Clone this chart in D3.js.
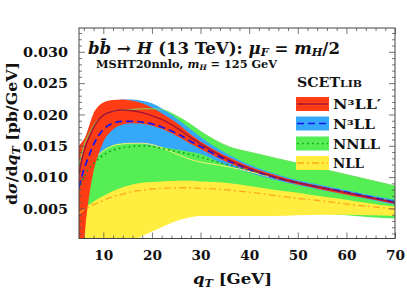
<!DOCTYPE html>
<html><head><meta charset="utf-8">
<script src="https://cdn.jsdelivr.net/npm/d3@7"></script>
<style>body{margin:0;background:#fff}svg{display:block}text{font-family:"DejaVu Serif",serif;font-weight:bold;fill:#111}</style>
</head><body><svg id="c" width="407" height="296"></svg>
<script>
// ---- data ----
const qT = [5,5.5,6,6.5,7,7.5,8,9,10,12,14,16,18,20,22,25,28,30,33,36,40,45,50,55,60,65,70];
const n3llpCentral = [0.0105,0.0124,0.0140,0.0152,0.0162,0.0171,0.0179,0.0191,0.0199,0.0205,0.0207,0.0206,0.0203,0.0198,0.0192,0.0179,0.0163,0.0153,0.0139,0.0127,0.0114,0.0101,0.0091,0.0083,0.0075,0.0067,0.0059];
const n3llpUpper   = [0.0150,0.0155,0.0160,0.0168,0.0180,0.0192,0.0202,0.0213,0.0219,0.0223,0.0224,0.0222,0.0218,0.0211,0.0202,0.0187,0.0168,0.0157,0.0143,0.0131,0.0117,0.0104,0.0093,0.0085,0.0077,0.0069,0.0061];
const n3llpLower   = [0.0,0.0,0.0,0.0035,0.0065,0.0090,0.0110,0.0136,0.0156,0.0176,0.0184,0.0186,0.0185,0.0182,0.0177,0.0166,0.0153,0.0145,0.0133,0.0122,0.0110,0.0098,0.0088,0.0080,0.0072,0.0065,0.0057];
const n3llCentral  = [0.0084,0.0099,0.0112,0.0123,0.0133,0.0143,0.0152,0.0166,0.0176,0.0186,0.0189,0.0189,0.0188,0.0185,0.0180,0.0170,0.0157,0.0149,0.0136,0.0125,0.0113,0.0100,0.0091,0.0083,0.0076,0.0068,0.0060];
const n3llUpper    = [0.0125,0.0140,0.0155,0.0168,0.0178,0.0187,0.0195,0.0207,0.0214,0.0221,0.0224,0.0224,0.0222,0.0218,0.0210,0.0194,0.0176,0.0164,0.0148,0.0135,0.0120,0.0106,0.0095,0.0087,0.0079,0.0071,0.0064];
const n3llLower    = [0.0030,0.0045,0.0060,0.0078,0.0095,0.0108,0.0120,0.0134,0.0143,0.0151,0.0154,0.0154,0.0153,0.0151,0.0148,0.0144,0.0140,0.0137,0.0127,0.0117,0.0107,0.0096,0.0087,0.0079,0.0072,0.0064,0.0056];
const nnllCentral  = [0.0080,0.0090,0.0100,0.0107,0.0113,0.0118,0.0122,0.0129,0.0135,0.0143,0.0147,0.0149,0.0150,0.0149,0.0146,0.0141,0.0136,0.0132,0.0125,0.0119,0.0111,0.0100,0.0091,0.0083,0.0075,0.0068,0.0061];
const nnllUpper    = [0.0120,0.0135,0.0150,0.0160,0.0168,0.0175,0.0182,0.0192,0.0199,0.0205,0.0207,0.0208,0.0209,0.0209,0.0208,0.0198,0.0184,0.0173,0.0159,0.0148,0.0140,0.0131,0.0122,0.0113,0.0104,0.0095,0.0086];
const nnllLower    = [0.0040,0.0041,0.0042,0.0043,0.0044,0.0045,0.0046,0.0048,0.0050,0.0052,0.0053,0.0054,0.0055,0.0055,0.0055,0.0054,0.0053,0.0053,0.0052,0.0051,0.0050,0.0048,0.0046,0.0042,0.0039,0.0036,0.0034];
const nllCentral   = [0.0042,0.0045,0.0048,0.0050,0.0052,0.0054,0.0056,0.0059,0.0063,0.0069,0.0073,0.0077,0.0079,0.0081,0.0082,0.0083,0.0083,0.0082,0.0081,0.0079,0.0076,0.0071,0.0066,0.0062,0.0057,0.0053,0.0049];
const nllUpper     = [0.0045,0.0048,0.0051,0.0054,0.0056,0.0058,0.0061,0.0066,0.0070,0.0078,0.0084,0.0088,0.0091,0.0092,0.0093,0.0094,0.0094,0.0093,0.0092,0.0090,0.0086,0.0080,0.0075,0.0069,0.0064,0.0058,0.0053];
const nllLower     = [-0.001,-0.001,-0.001,-0.001,-0.001,-0.001,-0.001,-0.001,-0.001,-0.001,-0.001,-0.0002,0.0006,0.0013,0.0020,0.0030,0.0036,0.0038,0.0038,0.0038,0.0038,0.0038,0.0039,0.0040,0.0040,0.0039,0.0038];
const nllEdge      = [null,null,null,null,null,null,null,0.0136,0.0142,0.0150,0.0153,0.0154,0.0154,0.0152,0.0147,0.0137,0.0128,0.0124,0.0120,0.0116,0.0109,0.0099,null,null,null,null,null];
const xTicks = [10,20,30,40,50,60,70];
const yTicks = [0.005,0.010,0.015,0.020,0.025,0.030];
const legendNames = ["N³LL′","N³LL","NNLL","NLL"];

// ---- layout ----
const svg = d3.select("#c");
const L=79, R=395, T=28, B=238.5;
const x = d3.scaleLinear().domain([5,70]).range([L,R]);
const y = d3.scaleLinear().domain([0.0002,0.0338]).range([B,T]);

const colors = {
  n3llp:{fill:"#ff3c14", line:"#a0123a"},
  n3ll:{fill:"#36a8fa", line:"#1414f0"},
  nnll:{fill:"#55ee55", line:"#1c9a1c"},
  nll:{fill:"#ffee40", line:"#ffa820"}
};
const dashes = {n3llp:null, n3ll:"7,4", nnll:"1.6,3.4", nll:"7,3,2,3"};

svg.append("clipPath").attr("id","clip").append("rect").attr("x",L).attr("y",T).attr("width",R-L).attr("height",B-T);
const g = svg.append("g").attr("clip-path","url(#clip)");

const area = (lo,hi)=>d3.area().x((d,i)=>x(qT[i])).y0((d,i)=>y(lo[i])).y1((d,i)=>y(hi[i])).curve(d3.curveMonotoneX);
const line = (arr)=>d3.line().defined(d=>d!=null).x((d,i)=>x(qT[i])).y(d=>y(d)).curve(d3.curveMonotoneX);

g.append("path").datum(qT).attr("d",area(nnllLower,nnllUpper)).attr("fill",colors.nnll.fill);
g.append("path").datum(qT).attr("d",area(nllLower,nllUpper)).attr("fill",colors.nll.fill);
g.append("path").datum(qT).attr("d",area(n3llLower,n3llUpper)).attr("fill",colors.n3ll.fill);
g.append("path").datum(qT).attr("d",area(n3llpLower,n3llpUpper)).attr("fill",colors.n3llp.fill);
// band edges drawn over fills
g.append("path").datum(nllEdge).attr("d",line(nllEdge)).attr("fill","none").attr("stroke","#f4f070").attr("stroke-width",1);
g.append("path").datum(nnllUpper).attr("d",line(nnllUpper)).attr("fill","none").attr("stroke","#6ee060").attr("stroke-width",1);

const centrals = [["nll",nllCentral],["nnll",nnllCentral],["n3ll",n3llCentral],["n3llp",n3llpCentral]];
centrals.forEach(([k,arr])=>{
  const p = g.append("path").datum(arr).attr("d",line(arr)).attr("fill","none")
    .attr("stroke",colors[k].line).attr("stroke-width",k==="n3llp"?1.4:(k==="nll"?1.3:1.7));
  if(dashes[k]) p.attr("stroke-dasharray",dashes[k]);
});

// ---- axes (ticks inward on all sides) ----
const minorX = d3.range(6,70.01,2).filter(v=>v%10!==0);
const minorY = d3.range(1,34).map(v=>v/1000).filter(v=>Math.round(v*1000)%5!==0);
function styleAxis(sel){ sel.select(".domain").remove(); sel.selectAll("line").attr("stroke","#555").attr("stroke-width",0.8); }
const ax = [];
ax.push(svg.append("g").attr("transform",`translate(0,${B})`).call(d3.axisBottom(x).tickValues(xTicks).tickSize(-6).tickPadding(12).tickFormat(d3.format("d"))));
ax.push(svg.append("g").attr("transform",`translate(0,${B})`).call(d3.axisBottom(x).tickValues(minorX).tickSize(-3).tickFormat("")));
ax.push(svg.append("g").attr("transform",`translate(0,${T})`).call(d3.axisTop(x).tickValues(xTicks).tickSize(-6).tickFormat("")));
ax.push(svg.append("g").attr("transform",`translate(0,${T})`).call(d3.axisTop(x).tickValues(minorX).tickSize(-3).tickFormat("")));
ax.push(svg.append("g").attr("transform",`translate(${L},0)`).call(d3.axisLeft(y).tickValues(yTicks).tickSize(-6).tickPadding(11).tickFormat(d3.format(".3f"))));
ax.push(svg.append("g").attr("transform",`translate(${L},0)`).call(d3.axisLeft(y).tickValues(minorY).tickSize(-3).tickFormat("")));
ax.push(svg.append("g").attr("transform",`translate(${R},0)`).call(d3.axisRight(y).tickValues(yTicks).tickSize(-6).tickFormat("")));
ax.push(svg.append("g").attr("transform",`translate(${R},0)`).call(d3.axisRight(y).tickValues(minorY).tickSize(-3).tickFormat("")));
ax.forEach(a=>{styleAxis(a); a.selectAll("text").attr("font-family","DejaVu Serif").attr("font-weight","bold").attr("font-size",13).attr("fill","#111");});
ax[0].selectAll("text").attr("textLength",19).attr("lengthAdjust","spacingAndGlyphs");
ax[4].selectAll("text").attr("textLength",45).attr("lengthAdjust","spacingAndGlyphs").attr("dy","0.36em");
svg.append("rect").attr("x",L).attr("y",T).attr("width",R-L).attr("height",B-T).attr("fill","none").attr("stroke","#444").attr("stroke-width",1);

// ---- rich text helper ----
function rich(parent, segs, opts){
  const t = parent.append("text").attr("x",opts.x).attr("y",opts.y).attr("font-size",opts.size);
  if(opts.anchor) t.attr("text-anchor",opts.anchor);
  if(opts.transform) t.attr("transform",opts.transform);
  let shift=0;
  const subShift = opts.subShift!=null ? opts.subShift : 0.22;
  segs.forEach(s=>{
    const ts = t.append("tspan").text(s.t);
    if(s.i) ts.attr("font-style","italic");
    const target = s.sub? opts.size*subShift : 0;
    if(target!==shift){ ts.attr("dy",target-shift); shift=target; }
    if(s.sub) ts.attr("font-size",opts.size*0.68);
    if(s.sz) ts.attr("font-size",s.sz);
  });
  if(opts.len) t.attr("textLength",opts.len).attr("lengthAdjust","spacingAndGlyphs");
  return t;
}

rich(svg,[{t:"b",i:1},{t:"b\u0304",i:1},{t:" \u2192 "},{t:"H",i:1},{t:" (13 TeV): "},{t:"\u03bc",i:1},{t:"F",i:1,sub:1},{t:" = "},{t:"m",i:1},{t:"H",i:1,sub:1},{t:"/2"}],{x:88,y:54,size:16,len:252,subShift:0.15});
rich(svg,[{t:"MSHT20nnlo, "},{t:"m",i:1},{t:"H",i:1,sub:1},{t:" = 125 GeV"}],{x:96,y:68,size:11,len:181});
rich(svg,[{t:"q",i:1},{t:"T",i:1,sub:1},{t:" [GeV]"}],{x:232.5,y:284,size:15,anchor:"middle",len:79});
rich(svg,[{t:"d"},{t:"\u03c3",i:1},{t:"/d"},{t:"q",i:1},{t:"T",i:1,sub:1},{t:" [pb/GeV]"}],{x:0,y:0,size:15,anchor:"middle",len:143,transform:"translate(17,133.5) rotate(-90)"});

// ---- legend ----
rich(svg,[{t:"SCET"},{t:"LIB",sz:10}],{x:297,y:87,size:13,len:65});
const keys = ["n3llp","n3ll","nnll","nll"];
const rowTop = [97,116.5,136.5,156];
const labLen = [48,42,47,31];
keys.forEach((k,i)=>{
  svg.append("rect").attr("x",296).attr("y",rowTop[i]).attr("width",33).attr("height",14).attr("fill",colors[k].fill);
  const l = svg.append("line").attr("x1",297).attr("x2",328).attr("y1",rowTop[i]+7).attr("y2",rowTop[i]+7)
    .attr("stroke",colors[k].line).attr("stroke-width",k==="n3llp"?1.4:1.7);
  if(dashes[k]) l.attr("stroke-dasharray",dashes[k]);
  svg.append("text").attr("x",333).attr("y",rowTop[i]+12).attr("font-size",13).attr("textLength",labLen[i]).attr("lengthAdjust","spacingAndGlyphs").text(legendNames[i]);
});
</script></body></html>
